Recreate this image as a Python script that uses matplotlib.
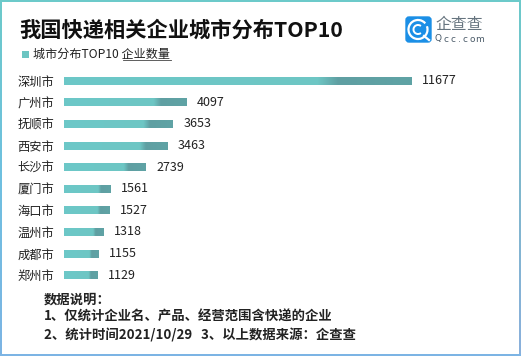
import matplotlib

matplotlib.use("Agg")
import matplotlib.pyplot as plt
import numpy as np
from matplotlib.colors import LinearSegmentedColormap
from matplotlib.patches import Arc, FancyBboxPatch, Rectangle

plt.rcParams["font.family"] = ["Noto Sans CJK SC", "DejaVu Sans"]

cities = ["深圳市", "广州市", "抚顺市", "西安市", "长沙市", "厦门市", "海口市", "温州市", "成都市", "郑州市"]
counts = [11677, 4097, 3653, 3463, 2739, 1561, 1527, 1318, 1155, 1129]
title = "我国快递相关企业城市分布TOP10"
legend_label = "城市分布TOP10 企业数量"
notes = [
    "数据说明：",
    "1、仅统计企业名、产品、经营范围含快递的企业",
    "2、统计时间2021/10/29   3、以上数据来源：企查查",
]

W, H = 521, 356
fig = plt.figure(figsize=(W / 100, H / 100), dpi=100)

# overlay in pixel coordinates for frame, title, legend, notes and logo
bg = fig.add_axes([0, 0, 1, 1], zorder=0)
bg.axis("off")

left_cmap = LinearSegmentedColormap.from_list("left", ["#6ccaca", "#6fc0e0", "#7cb4e4"])
right_cmap = LinearSegmentedColormap.from_list("right", ["#6ccaca", "#7fb8cc", "#8ab0dc"])
vgrad = np.linspace(0, 1, 256).reshape(-1, 1)
bg.imshow(vgrad, cmap=left_cmap, aspect="auto", extent=(0, 2, H, 0))
bg.imshow(vgrad, cmap=right_cmap, aspect="auto", extent=(W - 2.5, W, H, 0))
bg.add_patch(Rectangle((0, 0), W, 2, color="#6ccaca", lw=0))
bg.add_patch(Rectangle((0, H - 2), W, 2, color="#7cb4e4", lw=0))
bg.set_xlim(0, W)
bg.set_ylim(H, 0)

bg.text(19, 30, title, fontsize=15.3, fontweight="bold", color="#111111", va="center", ha="left")

bg.add_patch(Rectangle((22, 51), 7, 7, color="#6cc5c2", lw=0))
bg.text(33, 54.5, legend_label, fontsize=8.7, color="#222222", va="center", ha="left")
bg.plot([123, 171], [60, 60], color="#444444", lw=0.6)

for y, line in zip([300, 317, 335], notes):
    bg.text(44, y, line, fontsize=9.6, fontweight="bold", color="#222222", va="center", ha="left")

# logo
bg.add_patch(FancyBboxPatch((406, 17), 25, 25, boxstyle="round,pad=0,rounding_size=3", fc="#1b8fe6", ec="#1b8fe6", lw=1))
bg.add_patch(Arc((418, 29.5), 19, 19, theta1=-20, theta2=320, ec="white", lw=1.6))
bg.add_patch(Arc((418, 29.5), 9, 9, theta1=50, theta2=310, ec="white", lw=1.4))
bg.plot([424, 429], [36, 40], color="white", lw=1.6)
bg.text(459.5, 24.5, "企查查", fontsize=11.4, color="#66747f", va="center", ha="center")
for cx, ch in zip([438, 446, 453, 459, 465, 472, 480], "Qcc.com"):
    bg.text(cx, 39, ch, fontsize=6.5, color="#4a5a68", va="center", ha="center", family=["DejaVu Sans"])

# bars
ax = fig.add_axes([64 / W, 1 - 286 / H, 348 / W, 216 / H], zorder=1)
ax.patch.set_alpha(0)
cmap = LinearSegmentedColormap.from_list(
    "bar", [(0, "#6cc8c8"), (0.73, "#6ec6c4"), (0.79, "#5f9fa2"), (1, "#5fa3a5")]
)
grad = np.linspace(0, 1, 256).reshape(1, -1)
ypos = np.arange(len(cities))
bar_h = 0.37
for i, v in zip(ypos, counts):
    ax.imshow(grad, cmap=cmap, aspect="auto", extent=(0, v, i + bar_h / 2, i - bar_h / 2), interpolation="bilinear")
    ax.annotate(str(v), (v, i), xytext=(7.5, 0), textcoords="offset points", fontsize=9, color="#222222",
                va="center", ha="left", annotation_clip=False)

ax.set_xlim(0, max(counts))
ax.set_ylim(len(cities) - 0.5, -0.5)
ax.set_yticks(ypos)
ax.set_yticklabels(cities, fontsize=8.8, color="#222222")
ax.set_xticks([])
ax.tick_params(axis="y", length=0, pad=7)
for s in ax.spines.values():
    s.set_visible(False)

fig.savefig("out.png", dpi=100)
